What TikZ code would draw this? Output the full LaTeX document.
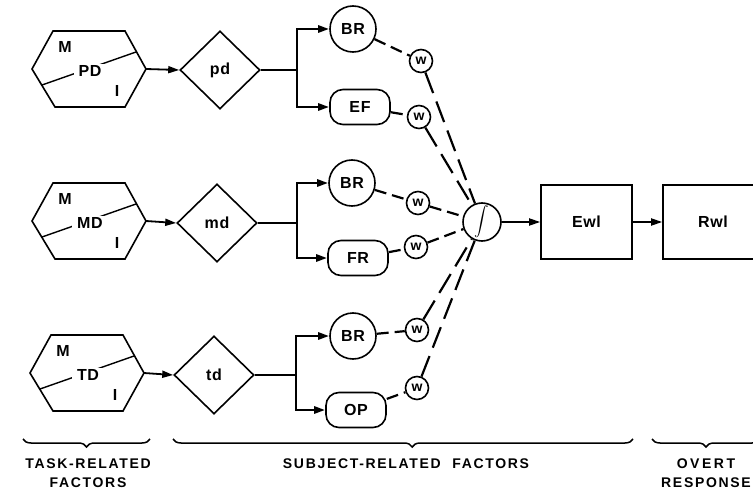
\documentclass[tikz,border=0pt]{standalone}
\usepackage{graphicx}
\usepackage{fontspec}
\setmainfont{Liberation Sans}[LetterSpace=4]
\newfontfamily\capfont{Liberation Sans}[LetterSpace=12]
\newfontfamily\widecapfont{Liberation Sans}[LetterSpace=18]
\usetikzlibrary{shapes.geometric,arrows.meta,decorations.pathreplacing}
\tikzset{
  lbl/.style={font=\bfseries\fontsize{16}{18}\selectfont, inner sep=1pt},
  outl/.style={line width=1.6pt},
  dia/.style={diamond, draw, outl, minimum width=80pt, minimum height=78pt, inner sep=0pt, lbl},
  rnd/.style={circle, draw, outl, minimum size=46pt, inner sep=0pt, lbl},
  pill/.style={rectangle, draw, outl, rounded corners=13pt, minimum width=60pt, minimum height=35pt, lbl},
  wt/.style={circle, draw, outl, fill=white, minimum size=23pt, inner sep=0pt, font=\bfseries\fontsize{14}{14}\selectfont},
  blk/.style={rectangle, draw, outl, minimum width=91pt, minimum height=74pt, lbl},
  arr/.style={-{Triangle[length=11pt,width=7pt]}, line width=1.8pt},
  fork/.style={arr, line width=2.6pt},
  dsh/.style={line width=2.2pt, dash pattern=on 22pt off 9pt},
  sdsh/.style={line width=2.2pt, dash pattern=on 12pt off 6pt},
  brc/.style={decorate, decoration={brace, amplitude=8pt}, line width=1.5pt},
  captxt/.style={font=\capfont\bfseries\fontsize{14}{19}\selectfont, align=center, inner sep=0pt},
}
\newcommand\hexfactor[4]{%
  \begin{scope}[shift={(#2,#3)}]
    \draw[outl] (-36,-38) -- (36,-38) -- (57,0) -- (36,38) -- (-34,38) -- (-57,0) -- cycle;
    \draw[line width=1.4pt] (-47,16) -- (47,-17);
    \node[lbl, fill=white, inner xsep=5pt, inner ysep=1pt] (#1l) at (1,2) {#4};
    \node[lbl] (#1m) at (-24,-22) {M};
    \node[lbl] (#1i) at (28,22) {I};
    \coordinate (#1r) at (57,0);
  \end{scope}}
\begin{document}
\begin{tikzpicture}[x=1pt,y=-1pt]
\useasboundingbox (0,0) rectangle (753,495);
\clip (0,0) rectangle (753,495);

% task-related factors
\hexfactor{h1}{89}{69}{PD}
\hexfactor{h2}{89}{221}{MD}
\hexfactor{h3}{87}{373}{TD}

% diamonds
\node[dia] (d1) at (220,70) {pd};
\node[dia] (d2) at (217,223) {md};
\node[dia] (d3) at (214,375) {td};

\draw[arr] (h1r) -- (d1.west);
\draw[arr] (h2r) -- (d2.west);
\draw[arr] (h3r) -- (d3.west);

% subject nodes
\node[rnd] (br1) at (353,29) {BR};
\node[pill] (ef1) at (360,107) {EF};
\node[rnd] (br2) at (352,183) {BR};
\node[pill] (fr2) at (358,258) {FR};
\node[rnd] (br3) at (353,336) {BR};
\node[pill] (op3) at (356,410) {OP};

\coordinate (f1) at (297,70);
\coordinate (f2) at (297,223);
\coordinate (f3) at (296,375);

\draw[line width=1.7pt] (d1.east) -- (f1);
\draw[line width=1.7pt] (d2.east) -- (f2);
\draw[line width=1.7pt] (d3.east) -- (f3);
\draw[fork] (f1) |- (br1);
\draw[fork] (f1) |- (ef1);
\draw[fork] (f2) |- (br2);
\draw[fork] (f2) |- (fr2);
\draw[fork] (f3) |- (br3);
\draw[fork] (f3) |- (op3);

% weights
\node[wt] (w1a) at (421,61) {w};
\node[wt] (w1b) at (419,117) {w};
\node[wt] (w2a) at (418,203) {w};
\node[wt] (w2b) at (416,247) {w};
\node[wt] (w3a) at (417,330) {w};
\node[wt] (w3b) at (417,388) {w};

% integrator
\node[circle, draw, outl, minimum size=38pt, inner sep=0pt, font=\fontsize{14}{14}\selectfont] (int) at (482,222) {\scalebox{1.45}{$\displaystyle\int$}};

\draw[sdsh] (br1) -- (w1a);
\draw[sdsh] (ef1) -- (w1b);
\draw[sdsh] (br2) -- (w2a);
\draw[sdsh] (fr2) -- (w2b);
\draw[sdsh] (br3) -- (w3a);
\draw[sdsh] (op3) -- (w3b);
\draw[dsh] (w1a) -- (int);
\draw[dsh] (w1b) -- (int);
\draw[sdsh] (w2a) -- (int);
\draw[sdsh] (w2b) -- (int);
\draw[dsh] (w3a) -- (int);
\draw[dsh] (w3b) -- (int);

% overt response
\node[blk] (ewl) at (586.5,222) {Ewl};
\node[blk, minimum width=100pt] (rwl) at (713,222) {Rwl};
\draw[arr] (int) -- (ewl);
\draw[arr] (ewl) -- (rwl);

% braces and captions
\draw[brc] (150,439) -- (23,439);
\draw[brc, decoration={aspect=0.48}] (633,439) -- (173,439);
\draw[brc] (760,439) -- (652,439);

\node[captxt] (c1) at (88,473) {TASK-RELATED\\FACTORS};
\node[captxt] (c2) at (406,464) {SUBJECT-RELATED\hspace{6pt} FACTORS};
\node[captxt, font=\widecapfont\bfseries\fontsize{14}{19}\selectfont] (c3) at (706,464) {OVERT};
\node[captxt] (c4) at (706,483) {RESPONSE};
\end{tikzpicture}
\end{document}
